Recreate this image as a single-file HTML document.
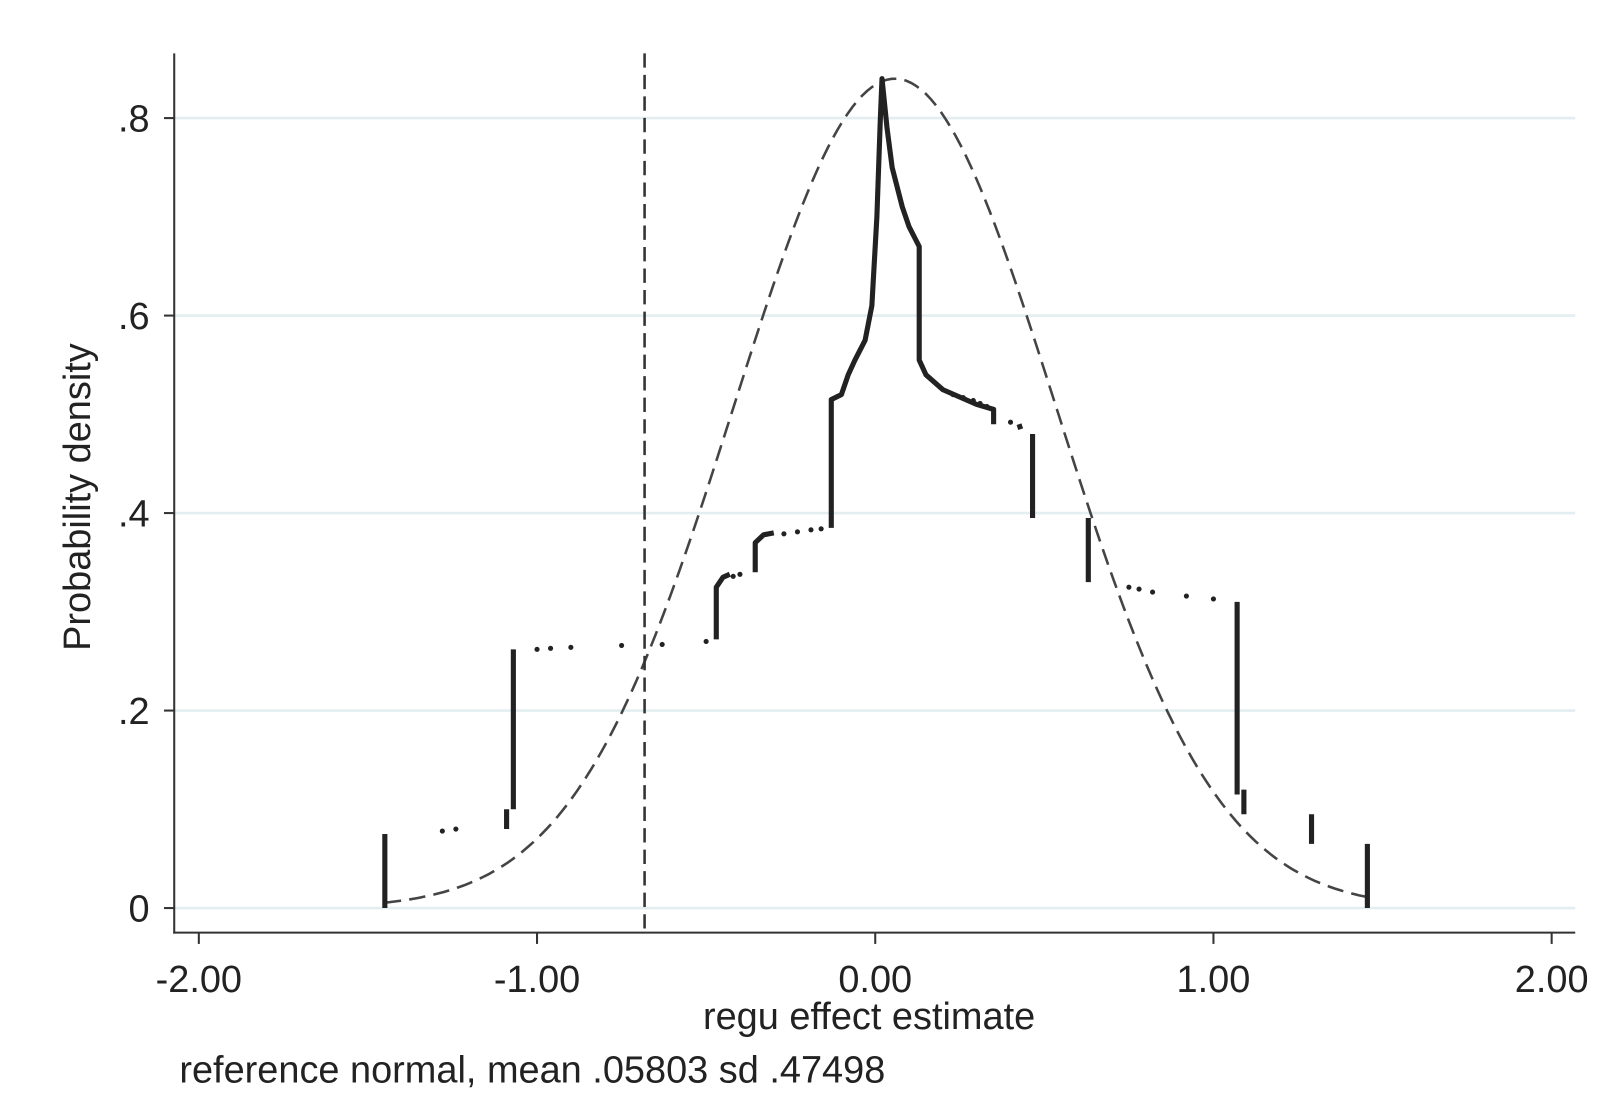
<!DOCTYPE html>
<html><head><meta charset="utf-8"><style>
html,body{margin:0;padding:0;background:#fff;}
svg{display:block;font-family:"Liberation Sans",Arial,sans-serif;}
</style></head><body>
<svg id="chart" width="1607" height="1111" viewBox="0 0 1568 1084">
<g id="grid"></g>
<g id="axes"></g>
<g id="marks"></g>
<text x="88" y="485" font-size="37" fill="#222" text-anchor="middle" transform="rotate(-90 88 485)">Probability density</text>
<text x="848" y="1004" font-size="37" fill="#222" text-anchor="middle">regu effect estimate</text>
<text x="175" y="1056" font-size="37" fill="#222">reference normal, mean .05803 sd .47498</text>
</svg>
<script>
const xTicks=[-2,-1,0,1,2];
const xTickLabels=["-2.00","-1.00","0.00","1.00","2.00"];
const yTicks=[0,0.2,0.4,0.6,0.8];
const yTickLabels=["0",".2",".4",".6",".8"];
const normMean=0.05803, normSd=0.47498;
const normRange=[-1.45,1.46];
const refLineX=-0.682;
// continuous density segments (null breaks)
const lineX=[-1.45,-1.45,null,-1.09,-1.09,null,-1.07,-1.07,null,-0.47,-0.47,-0.45,-0.43,null,-0.355,-0.355,-0.33,-0.3,null,-0.13,-0.13,-0.1,-0.08,-0.06,-0.03,-0.01,0.005,0.015,0.02,0.035,0.05,0.08,0.1,0.13,0.13,0.15,0.2,0.3,0.35,0.35,null,0.425,0.43,null,0.465,0.465,null,0.63,0.63,null,1.07,1.07,null,1.09,1.09,null,1.29,1.29,null,1.455,1.455];
const lineY=[0.0,0.075,null,0.08,0.1,null,0.1,0.262,null,0.272,0.325,0.335,0.338,null,0.34,0.37,0.378,0.38,null,0.385,0.515,0.52,0.54,0.555,0.575,0.61,0.7,0.8,0.84,0.79,0.75,0.71,0.69,0.67,0.555,0.54,0.525,0.51,0.505,0.49,null,0.49,0.485,null,0.48,0.395,null,0.395,0.33,null,0.31,0.115,null,0.12,0.095,null,0.095,0.065,null,0.065,0.0];
const dotX=[-1.28,-1.24,-1.0,-0.96,-0.9,-0.75,-0.63,-0.5,-0.42,-0.4,-0.27,-0.23,-0.19,-0.16,0.23,0.26,0.29,0.31,0.33,0.4,0.75,0.78,0.82,0.92,1.0];
const dotY=[0.078,0.08,0.262,0.263,0.264,0.266,0.267,0.27,0.336,0.338,0.379,0.381,0.383,0.384,0.52,0.517,0.514,0.511,0.508,0.492,0.325,0.323,0.32,0.316,0.313];

const X=v=>854+v*330, Y=v=>886-v*963.5;
const NS="http://www.w3.org/2000/svg";
function mk(t,a,p){const e=document.createElementNS(NS,t);for(const k in a)e.setAttribute(k,a[k]);p.appendChild(e);return e;}
const grid=document.getElementById('grid'),axes=document.getElementById('axes'),marks=document.getElementById('marks');
yTicks.forEach((t,i)=>{
  const g=mk('line',{x1:170,x2:1537,y1:Y(t),y2:Y(t),stroke:'#e3eef0','stroke-width':2.5},grid);
  
  
  const tk=mk('line',{x1:160,x2:170,y1:Y(t),y2:Y(t),stroke:'#333','stroke-width':2},axes);
  
  
  const lb=mk('text',{x:146,y:Y(t)+13,'font-size':37,fill:'#222','text-anchor':'end'},axes);
  lb.textContent=yTickLabels[i];
  
  
});
xTicks.forEach((t,i)=>{
  const tk=mk('line',{x1:X(t),x2:X(t),y1:910,y2:921,stroke:'#333','stroke-width':2},axes);
  
  
  const lb=mk('text',{x:X(t),y:968,'font-size':37,fill:'#222','text-anchor':'middle'},axes);
  lb.textContent=xTickLabels[i];
  
  
});
const ya=mk('line',{x1:170,x2:170,y1:52,y2:911,stroke:'#333','stroke-width':2},axes);


const xa=mk('line',{x1:169,x2:1537,y1:910,y2:910,stroke:'#333','stroke-width':2},axes);


let d='';
for(let i=0;i<=200;i++){const v=normRange[0]+(normRange[1]-normRange[0])*i/200;
 const y=Math.exp(-0.5*((v-normMean)/normSd)**2)/(normSd*Math.sqrt(2*Math.PI));
 d+=(i?'L':'M')+X(v).toFixed(1)+' '+Y(y).toFixed(1);}
const nc=mk('path',{d:d,fill:'none',stroke:'#444','stroke-width':2.5,'stroke-dasharray':'16 8'},marks);


const rl=mk('line',{x1:X(refLineX),x2:X(refLineX),y1:52,y2:910,stroke:'#333','stroke-width':2.5,'stroke-dasharray':'14 7'},marks);


let p='',start=true;
for(let i=0;i<lineX.length;i++){if(lineX[i]===null){start=true;continue;}
 p+=(start?'M':'L')+X(lineX[i]).toFixed(1)+' '+Y(lineY[i]).toFixed(1);start=false;}
const dl=mk('path',{d:p,fill:'none',stroke:'#222','stroke-width':5,'stroke-linejoin':'round'},marks);


dotX.forEach((v,i)=>{
  const c=mk('circle',{cx:X(v),cy:Y(dotY[i]),r:2.5,fill:'#222'},marks);
  
  
});
</script>
</body></html>
